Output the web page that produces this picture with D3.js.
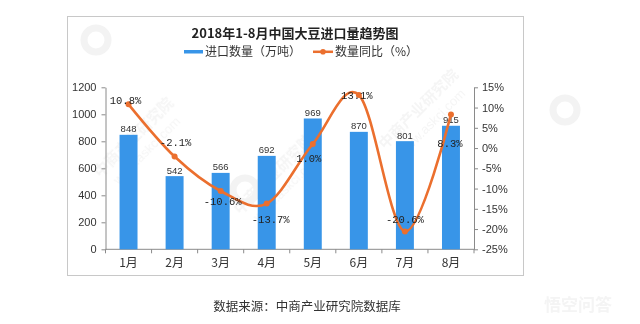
<!DOCTYPE html>
<html>
<head>
<meta charset="utf-8">
<script src="https://cdn.jsdelivr.net/npm/d3@7/dist/d3.min.js"></script>
<style>
  html, body { margin: 0; padding: 0; background: #fff; }
  svg { display: block; }
</style>
</head>
<body>
<svg id="chart" width="640" height="324"></svg>
<script>
// Monthly soybean imports, Jan–Aug 2018
const months = ["1月", "2月", "3月", "4月", "5月", "6月", "7月", "8月"];
const importVolume = [848, 542, 566, 692, 969, 870, 801, 915];      // 万吨
const yoyChange = [10.8, -2.1, -10.6, -13.7, 1.0, 13.1, -20.6, 8.3]; // %
const leftTicks = [0, 200, 400, 600, 800, 1000, 1200];
const rightTicks = [-25, -20, -15, -10, -5, 0, 5, 10, 15];

// where each percentage label sits relative to its point (dx, dy of text centre)
const pctLabelOffset = [[-3, -4], [1, -14], [2, 10], [4, 16], [-4, 14], [-2, 0], [0, -12], [-1, 29]];

const titleText = "2018年1-8月中国大豆进口量趋势图";
const legendBar = "进口数量（万吨）";
const legendLine = "数量同比（%）";
const sourceText = "数据来源：中商产业研究院数据库";

const barColor = "#3895e8";
const lineColor = "#eb6f2e";
const cjk = "'Noto Sans CJK SC', 'Noto Sans', sans-serif";
const num = "'Liberation Sans', Arial, sans-serif";
const mono = "'Liberation Mono', 'DejaVu Sans Mono', monospace";

const svg = d3.select("#chart");

// frame
svg.append("rect")
  .attr("x", 67.5).attr("y", 16.5).attr("width", 456).attr("height", 259)
  .attr("fill", "none").attr("stroke", "#c8c8c8").attr("stroke-width", 1);

// faint watermarks
const wm = svg.append("g").attr("fill", "#b8b8b8").attr("opacity", 0.14)
  .attr("font-family", cjk).attr("font-weight", "bold");
[[100, 178], [240, 215], [385, 150]].forEach(([x, y]) => {
  const g = wm.append("g").attr("transform", `translate(${x},${y}) rotate(-45)`);
  g.append("text").attr("font-size", 15).text("中商产业研究院");
  g.append("text").attr("y", 18).attr("x", 8).attr("font-size", 13)
    .attr("font-family", num).attr("font-weight", "normal").text("www.askci.com");
});
[[96, 40], [245, 190], [565, 110]].forEach(([x, y]) => {
  wm.append("circle").attr("cx", x).attr("cy", y).attr("r", 12)
    .attr("fill", "none").attr("stroke", "#a8a8a8").attr("stroke-width", 7);
});
svg.append("text").attr("x", 578).attr("y", 311).attr("text-anchor", "middle")
  .attr("font-family", cjk).attr("font-size", 17).attr("font-weight", "bold")
  .attr("fill", "#f4f4f4").text("悟空问答");

// scales
const plot = { left: 105.5, right: 474, top: 87.3, bottom: 249.3 };
const x = d3.scaleBand().domain(months).range([plot.left, plot.right])
  .paddingInner(0.61).paddingOuter(0.305);
const yL = d3.scaleLinear().domain([0, 1200]).range([plot.bottom, plot.top]);
const yR = d3.scaleLinear().domain([-25, 15]).range([plot.bottom, plot.top]);
const cx = m => x(m) + x.bandwidth() / 2;

// title + legend
svg.append("text").attr("x", 295).attr("y", 38).attr("text-anchor", "middle")
  .attr("font-family", cjk).attr("font-size", 13).attr("font-weight", "bold")
  .attr("fill", "#222").text(titleText);

const lg = svg.append("g").attr("font-family", cjk).attr("font-size", 12).attr("fill", "#333");
lg.append("rect").attr("x", 184).attr("y", 50).attr("width", 19).attr("height", 3.5).attr("fill", barColor);
lg.append("text").attr("x", 205).attr("y", 56).text(legendBar);
lg.append("line").attr("x1", 313).attr("x2", 333).attr("y1", 51.8).attr("y2", 51.8)
  .attr("stroke", lineColor).attr("stroke-width", 2.5);
lg.append("circle").attr("cx", 323).attr("cy", 51.8).attr("r", 2.8).attr("fill", lineColor);
lg.append("text").attr("x", 335).attr("y", 56).text(legendLine);

// axes
const axisColor = "#8a8a8a";
function styleAxis(g) {
  g.selectAll(".domain").attr("stroke", axisColor);
  g.selectAll(".tick line").attr("stroke", axisColor);
  g.selectAll(".tick text").attr("fill", "#333").attr("font-family", num).attr("font-size", 11);
}

svg.append("g").attr("transform", `translate(${plot.left},0)`)
  .call(d3.axisLeft(yL).tickValues(leftTicks).tickSize(4).tickSizeOuter(0).tickPadding(5)
    .tickFormat(d3.format("d")))
  .call(styleAxis);

svg.append("g").attr("transform", `translate(${plot.right},0)`)
  .call(d3.axisRight(yR).tickValues(rightTicks).tickSize(4).tickSizeOuter(0).tickPadding(4)
    .tickFormat(d => d + "%"))
  .call(styleAxis);

// category axis with ticks on band boundaries
const xAxis = svg.append("g").attr("transform", `translate(0,${plot.bottom})`);
xAxis.append("line").attr("x1", plot.left).attr("x2", plot.right)
  .attr("stroke", axisColor);
const step = x.step();
d3.range(months.length + 1).forEach(i => {
  const px = plot.left + i * step;
  xAxis.append("line").attr("x1", px).attr("x2", px).attr("y1", 0).attr("y2", 4)
    .attr("stroke", axisColor);
});
xAxis.selectAll("text.m").data(months).join("text")
  .attr("x", d => cx(d)).attr("y", 18).attr("text-anchor", "middle")
  .attr("font-family", cjk).attr("font-size", 12).attr("fill", "#333").text(d => d);

// bars
svg.append("g").selectAll("rect").data(months).join("rect")
  .attr("x", d => x(d)).attr("width", x.bandwidth())
  .attr("y", (d, i) => yL(importVolume[i]))
  .attr("height", (d, i) => plot.bottom - yL(importVolume[i]))
  .attr("fill", barColor);

svg.append("g").selectAll("text").data(months).join("text")
  .attr("x", d => cx(d)).attr("y", (d, i) => yL(importVolume[i]) - 2.5)
  .attr("text-anchor", "middle").attr("font-family", num).attr("font-size", 9.5)
  .attr("fill", "#333").text((d, i) => importVolume[i]);

// smoothed YoY line
const pts = months.map((m, i) => [cx(m), yR(yoyChange[i])]);
svg.append("path").datum(pts)
  .attr("d", d3.line().curve(d3.curveCardinal.tension(0)))
  .attr("fill", "none").attr("stroke", lineColor).attr("stroke-width", 2.6);
svg.append("g").selectAll("circle").data(pts).join("circle")
  .attr("cx", d => d[0]).attr("cy", d => d[1]).attr("r", 3).attr("fill", lineColor);

svg.append("g").selectAll("text").data(pts).join("text")
  .attr("x", (d, i) => d[0] + pctLabelOffset[i][0])
  .attr("y", (d, i) => d[1] + pctLabelOffset[i][1])
  .attr("dy", "0.35em").attr("text-anchor", "middle")
  .attr("font-family", mono).attr("font-size", 10.5).attr("fill", "#222")
  .text((d, i) => yoyChange[i].toFixed(1) + "%");

// source
svg.append("text").attr("x", 307).attr("y", 311).attr("text-anchor", "middle")
  .attr("font-family", cjk).attr("font-size", 12.5).attr("fill", "#333").text(sourceText);
</script>
</body>
</html>
